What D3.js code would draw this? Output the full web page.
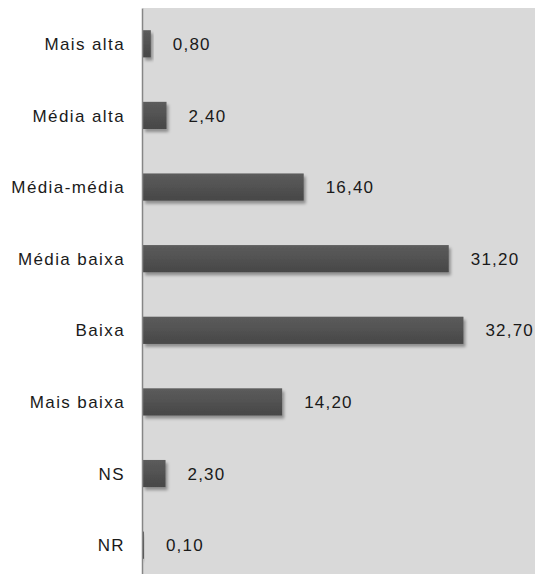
<!DOCTYPE html>
<html>
<head>
<meta charset="utf-8">
<script src="https://cdn.jsdelivr.net/npm/d3@7/dist/d3.min.js"></script>
<style>
  html, body { margin: 0; padding: 0; background: #ffffff; }
  svg { display: block; }
  text { font-family: "Liberation Sans", Arial, sans-serif; fill: #1a1a1a; }
</style>
</head>
<body>
<svg id="chart" width="538" height="574"></svg>
<script>
// Income bands and their shares (%)
const categories = ["Mais alta", "Média alta", "Média-média", "Média baixa", "Baixa", "Mais baixa", "NS", "NR"];
const values = [0.8, 2.4, 16.4, 31.2, 32.7, 14.2, 2.3, 0.1];
const valueLabels = ["0,80", "2,40", "16,40", "31,20", "32,70", "14,20", "2,30", "0,10"];

const svg = d3.select("#chart");
const margin = { left: 143, right: 3, top: 8, bottom: -7 };
const W = 538, H = 574;

const x = d3.scaleLinear().domain([0, 40]).range([margin.left, W - margin.right]);
const y = d3.scaleBand().domain(categories)
  .range([margin.top, H - margin.bottom]).paddingInner(0.62).paddingOuter(0.31);

const defs = svg.append("defs");
const grad = defs.append("linearGradient").attr("id", "barGrad")
  .attr("x1", 0).attr("y1", 0).attr("x2", 0).attr("y2", 1);
grad.append("stop").attr("offset", "0%").attr("stop-color", "#5c5c5c");
grad.append("stop").attr("offset", "100%").attr("stop-color", "#474747");

const shadow = defs.append("filter").attr("id", "barShadow")
  .attr("x", "-20%").attr("y", "-30%").attr("width", "150%").attr("height", "180%");
shadow.append("feDropShadow").attr("dx", 2).attr("dy", 3)
  .attr("stdDeviation", 1.8).attr("flood-color", "#000").attr("flood-opacity", 0.35);

// Plot background
svg.append("rect")
  .attr("x", x(0)).attr("y", margin.top)
  .attr("width", x(40) - x(0)).attr("height", H - margin.top)
  .attr("fill", "#d9d9d9");

// Bars
svg.append("g").selectAll("rect").data(values).join("rect")
  .attr("x", x(0))
  .attr("y", (d, i) => y(categories[i]))
  .attr("width", d => x(d) - x(0))
  .attr("height", y.bandwidth())
  .attr("fill", "url(#barGrad)")
  .attr("filter", "url(#barShadow)");

// Value labels
svg.append("g").selectAll("text").data(values).join("text")
  .attr("x", d => x(d) + 22)
  .attr("y", (d, i) => y(categories[i]) + y.bandwidth() / 2)
  .attr("dy", "0.36em")
  .attr("font-size", 17)
  .attr("letter-spacing", 1.2)
  .text((d, i) => valueLabels[i]);

// Category axis
const axis = svg.append("g")
  .attr("transform", `translate(${x(0) - 1},0)`)
  .call(d3.axisLeft(y).tickSize(0).tickPadding(17));
axis.select(".domain").attr("stroke", "#868686").attr("stroke-width", 1.5);
axis.selectAll(".tick text")
  .attr("font-size", 17)
  .attr("letter-spacing", 1.4)
  .attr("dy", "0.36em")
  .attr("font-family", "Liberation Sans, Arial, sans-serif")
  .attr("fill", "#1a1a1a");
</script>
</body>
</html>
